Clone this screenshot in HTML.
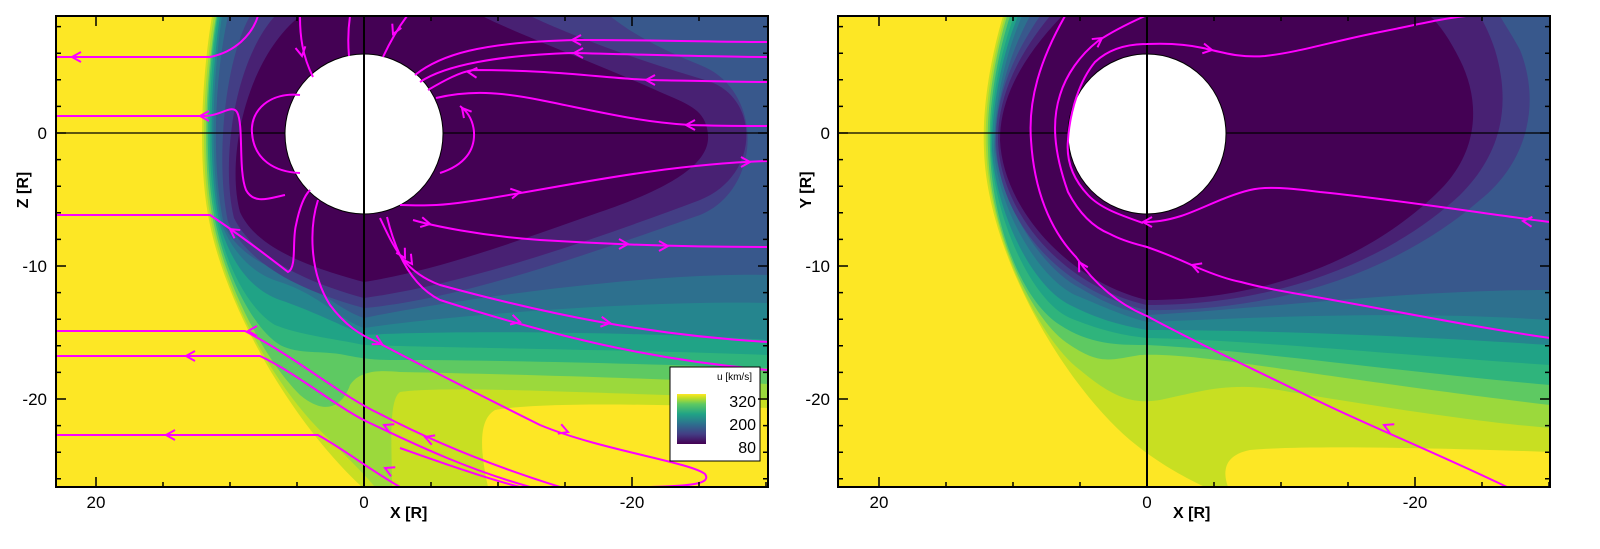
<!DOCTYPE html>
<html><head><meta charset="utf-8"><style>
html,body{margin:0;padding:0;background:#fff;}
svg{display:block;font-family:"Liberation Sans",sans-serif;}
.s{fill:none;stroke:#ff00ff;stroke-width:2;}
.a{fill:none;stroke:#ff00ff;stroke-width:2;}
.t{stroke:#000;stroke-width:1.5;}
</style></head><body>
<svg width="1600" height="549" viewBox="0 0 1600 549" xmlns="http://www.w3.org/2000/svg">
<defs>
<clipPath id="cl"><rect x="56" y="16" width="712" height="471"/></clipPath>
<clipPath id="cr"><rect x="838" y="16" width="712" height="471"/></clipPath>
<linearGradient id="cb" x1="0" y1="1" x2="0" y2="0">
<stop offset="0" stop-color="#440154"/><stop offset="0.2" stop-color="#433e85"/><stop offset="0.4" stop-color="#2d708e"/><stop offset="0.6" stop-color="#20a386"/><stop offset="0.8" stop-color="#5ec962"/><stop offset="0.93" stop-color="#c8df22"/><stop offset="1" stop-color="#fde725"/>
</linearGradient>
</defs>
<rect width="1600" height="549" fill="#fff"/>

<!-- LEFT PANEL -->
<g clip-path="url(#cl)">
<rect x="56" y="16" width="712" height="471" fill="#fde725"/>
<path fill="#c8df22" d="M212,16 C203,70 196,160 210,225 C228,310 290,420 362,487 L768,487 L768,16 Z"/>
<path fill="#fde725" d="M488,487 C480,450 478,420 495,410 C540,402 650,404 768,408 L768,487 Z"/>
<path fill="#9bd93c" d="M214,16 C205,70 198,160 212,225 C228,300 275,390 330,440 C350,460 365,475 375,487 L392,487 C392,450 388,400 400,392 C450,385 600,394 768,398 L768,16 Z"/>
<path fill="#5ec962" d="M216,16 C207,70 200,160 214,225 C228,290 265,360 300,395 C330,420 345,400 350,385 C360,370 380,370 400,372 C500,374 650,378 768,384 L768,16 Z"/>
<path fill="#2fb47c" d="M217,16 C208,70 202,160 216,225 C228,280 255,330 280,345 C300,355 320,350 345,355 C370,360 380,360 400,360 C500,360 650,364 768,368 L768,16 Z"/>
<path fill="#20a386" d="M218,16 C210,70 204,160 218,225 C228,270 250,310 275,325 C300,335 330,338 364,345 C450,348 650,350 768,355 L768,16 Z"/>
<path fill="#25858e" d="M220,16 C212,70 206,160 220,225 C232,265 252,290 280,300 C310,310 340,325 364,335 C450,330 650,332 768,340 L768,16 Z"/>
<path fill="#2d708e" d="M222,16 C214,70 208,160 222,225 C234,255 255,275 280,282 C320,295 340,320 364,328 C450,315 650,300 768,303 L768,16 Z"/>
<path fill="#38588c" d="M228,16 C216,70 210,160 224,225 C236,250 260,265 290,275 C320,290 340,310 364,318 C450,300 650,272 768,275 L768,16 Z"/>
<path fill="#433e85" d="M250,16 C225,60 215,160 228,222 C245,255 280,285 364,308 C460,300 600,250 700,215 C762,190 765,90 700,65 C650,45 625,28 610,16 Z"/>
<path fill="#482173" d="M275,16 C235,60 220,160 234,218 C250,250 290,278 364,298 C460,285 580,245 700,200 C762,175 760,95 705,80 C620,55 560,30 530,16 Z"/>
<path fill="#440154" d="M300,16 C245,60 226,160 240,212 C255,245 300,265 364,282 C440,270 520,240 600,212 C680,185 710,160 708,135 C706,110 690,105 660,92 C600,65 520,35 482,16 Z"/>
<line x1="56" y1="133" x2="768" y2="133" stroke="#000" stroke-width="1.2"/>
<ellipse cx="364" cy="134" rx="79" ry="80" fill="#fff" stroke="#000" stroke-width="1"/>
<line x1="364" y1="16" x2="364" y2="487" stroke="#000" stroke-width="2"/>

<!-- streamlines left -->
<path class="s" d="M56,57 L210,57 C235,52 252,35 258,16"/>
<path class="s" d="M56,116 L205,116 C220,116 232,104 237,112 C244,125 238,170 246,190 C254,205 270,198 285,195"/>
<path class="s" d="M300,95 C270,92 250,110 252,133 C254,160 275,172 300,173"/>
<path class="s" d="M56,215 L210,215 C240,235 270,258 288,272 C297,268 292,240 296,225 C300,205 305,195 310,190"/>
<path class="s" d="M318,200 C310,225 308,270 330,305 C345,325 360,335 377,342 C420,365 480,395 540,425 C600,450 690,462 705,474 C712,484 690,486 650,487"/>
<path class="s" d="M300,17 C300,35 302,55 313,77"/>
<path class="s" d="M350,16 C348,30 348,45 349,56"/>
<path class="s" d="M407,16 C398,28 390,42 383,57"/>
<path class="s" d="M415,75 C440,55 480,42 577,40 C660,40 720,42 768,42"/>
<path class="s" d="M420,82 C445,65 500,55 573,53 C660,55 720,57 768,57"/>
<path class="s" d="M428,90 C445,80 460,72 473,70 C560,70 600,78 650,80 C700,81 740,82 768,82"/>
<path class="s" d="M436,98 C470,90 500,92 540,100 C600,112 640,122 690,125 C720,126 750,126 768,126"/>
<path class="s" d="M440,173 C465,165 475,150 474,132 C473,120 468,112 460,106"/>
<path class="s" d="M400,205 C430,206 445,205 465,202 C550,190 650,165 768,161"/>
<path class="s" d="M413,220 C430,225 480,236 540,240 C620,245 700,247 768,247"/>
<path class="s" d="M380,218 C395,250 405,272 440,285 C550,315 650,335 768,342"/>
<path class="s" d="M387,217 C395,250 410,285 440,300 C550,335 650,360 768,370"/>
<path class="s" d="M56,331 L245,331 C300,360 340,395 380,414 C420,435 480,462 560,487"/>
<path class="s" d="M56,356 L260,356 C300,375 340,410 372,424 C420,447 470,470 530,487"/>
<path class="s" d="M56,435 L318,435 C345,450 370,470 400,487"/>
<path class="s" d="M520,487 C480,477 420,455 400,448"/>
<!-- arrows left -->
<g class="a">
<path d="M-9,-5 L0,0 L-9,5" transform="translate(72,57) rotate(180)"/>
<path d="M-9,-5 L0,0 L-9,5" transform="translate(200,116) rotate(180)"/>
<path d="M-9,-5 L0,0 L-9,5" transform="translate(230,229) rotate(215)"/>
<path d="M-9,-5 L0,0 L-9,5" transform="translate(302,56) rotate(80)"/>
<path d="M-9,-5 L0,0 L-9,5" transform="translate(393,34) rotate(115)"/>
<path d="M-9,-5 L0,0 L-9,5" transform="translate(572,40) rotate(180)"/>
<path d="M-9,-5 L0,0 L-9,5" transform="translate(574,53) rotate(180)"/>
<path d="M-9,-5 L0,0 L-9,5" transform="translate(646,80) rotate(180)"/>
<path d="M-9,-5 L0,0 L-9,5" transform="translate(468,72) rotate(185)"/>
<path d="M-9,-5 L0,0 L-9,5" transform="translate(686,125) rotate(180)"/>
<path d="M-9,-5 L0,0 L-9,5" transform="translate(462,108) rotate(230)"/>
<path d="M-9,-5 L0,0 L-9,5" transform="translate(750,162)"/>
<path d="M-9,-5 L0,0 L-9,5" transform="translate(520,192) rotate(-10)"/>
<path d="M-9,-5 L0,0 L-9,5" transform="translate(628,244)"/>
<path d="M-9,-5 L0,0 L-9,5" transform="translate(668,246)"/>
<path d="M-9,-5 L0,0 L-9,5" transform="translate(430,224) rotate(12)"/>
<path d="M-9,-5 L0,0 L-9,5" transform="translate(412,264) rotate(55)"/>
<path d="M-9,-5 L0,0 L-9,5" transform="translate(405,258) rotate(60)"/>
<path d="M-9,-5 L0,0 L-9,5" transform="translate(610,323) rotate(8)"/>
<path d="M-9,-5 L0,0 L-9,5" transform="translate(520,322) rotate(15)"/>
<path d="M-9,-5 L0,0 L-9,5" transform="translate(382,344) rotate(28)"/>
<path d="M-9,-5 L0,0 L-9,5" transform="translate(568,432) rotate(20)"/>
<path d="M-9,-5 L0,0 L-9,5" transform="translate(248,331) rotate(180)"/>
<path d="M-9,-5 L0,0 L-9,5" transform="translate(186,356) rotate(180)"/>
<path d="M-9,-5 L0,0 L-9,5" transform="translate(166,435) rotate(180)"/>
<path d="M-9,-5 L0,0 L-9,5" transform="translate(425,437) rotate(200)"/>
<path d="M-9,-5 L0,0 L-9,5" transform="translate(384,425) rotate(205)"/>
<path d="M-9,-5 L0,0 L-9,5" transform="translate(385,468) rotate(205)"/>
</g>
</g>
<rect x="56" y="16" width="712" height="471" fill="none" stroke="#000" stroke-width="2"/>
<!-- legend -->
<rect x="670" y="367" width="90" height="94" fill="#fff" stroke="#000" stroke-width="1"/>
<text x="752" y="380" font-size="10" text-anchor="end">u [km/s]</text>
<rect x="677" y="394" width="29" height="50" fill="url(#cb)"/>
<text x="756" y="407" font-size="16" text-anchor="end">320</text>
<text x="756" y="430" font-size="16" text-anchor="end">200</text>
<text x="756" y="453" font-size="16" text-anchor="end">80</text>

<!-- RIGHT PANEL -->
<g clip-path="url(#cr)">
<rect x="838" y="16" width="712" height="471" fill="#fde725"/>
<path fill="#c8df22" d="M1003,16 C990,60 982,110 984,150 C987,250 1060,380 1130,440 C1160,465 1190,480 1205,487 L1550,487 L1550,16 Z"/>
<path fill="#fde725" d="M1228,487 C1222,470 1225,455 1250,450 C1300,445 1450,448 1550,452 L1550,487 Z"/>
<path fill="#9bd93c" d="M1005,16 C992,60 984,110 986,150 C990,240 1040,340 1080,370 C1110,395 1130,405 1160,400 C1200,392 1230,380 1290,392 C1400,410 1480,422 1550,428 L1550,16 Z"/>
<path fill="#5ec962" d="M1007,16 C994,60 986,110 988,150 C990,230 1030,320 1070,345 C1100,365 1110,360 1140,355 C1200,352 1300,375 1550,405 L1550,16 Z"/>
<path fill="#2fb47c" d="M1010,16 C996,60 988,110 990,150 C992,220 1020,300 1060,325 C1090,345 1120,345 1147,345 C1250,350 1400,372 1550,385 L1550,16 Z"/>
<path fill="#20a386" d="M1014,16 C998,60 990,110 991,150 C994,215 1030,300 1070,318 C1100,330 1120,335 1147,338 C1250,340 1400,355 1550,365 L1550,16 Z"/>
<path fill="#25858e" d="M1018,16 C1000,60 992,110 992,150 C996,210 1030,285 1070,305 C1100,320 1120,325 1147,330 C1250,330 1400,335 1550,345 L1550,16 Z"/>
<path fill="#2d708e" d="M1022,16 C1003,60 994,110 994,150 C998,205 1035,275 1075,295 C1100,305 1120,315 1147,322 C1250,318 1400,310 1550,320 L1550,16 Z"/>
<path fill="#38588c" d="M1030,16 C1006,60 995,110 995,145 C999,200 1040,268 1080,288 C1100,300 1120,310 1147,315 C1250,310 1400,290 1550,290 L1550,16 Z"/>
<path fill="#433e85" d="M1040,16 C1010,60 996,100 996,140 C997,220 1060,292 1147,310 C1280,312 1400,270 1480,200 C1530,160 1540,100 1520,50 C1512,35 1505,25 1500,16 Z"/>
<path fill="#482173" d="M1050,16 C1014,60 998,100 998,140 C1000,215 1065,287 1147,305 C1280,305 1390,260 1460,195 C1505,150 1510,100 1495,50 C1490,35 1485,25 1480,16 Z"/>
<path fill="#440154" d="M1062,16 C1020,60 1000,100 1000,140 C1003,210 1070,282 1147,300 C1280,300 1380,250 1440,190 C1480,150 1480,100 1460,60 C1450,40 1440,25 1430,16 Z"/>
<line x1="838" y1="133" x2="1550" y2="133" stroke="#000" stroke-width="1.2"/>
<ellipse cx="1147" cy="134" rx="79" ry="80" fill="#fff" stroke="#000" stroke-width="1"/>
<line x1="1147" y1="16" x2="1147" y2="487" stroke="#000" stroke-width="2"/>
<!-- streamlines right -->
<path class="s" d="M1065,16 C1040,60 1028,100 1031,140 C1034,190 1050,230 1076,257 C1095,285 1120,305 1147,316 C1200,345 1260,372 1312,398 C1360,422 1430,450 1507,487"/>
<path class="s" d="M1145,16 C1125,25 1110,33 1098,41 C1080,55 1066,75 1060,95 C1052,120 1053,150 1068,192 C1080,215 1095,228 1110,234 C1125,242 1140,245 1147,247 C1170,255 1185,262 1196,267 C1215,275 1230,280 1241,282 C1270,290 1300,294 1316,297 C1400,312 1480,328 1550,338"/>
<path class="s" d="M1143,223 C1120,215 1100,208 1088,195 C1072,178 1066,160 1068,140 C1070,110 1080,80 1095,62 C1110,48 1130,44 1147,44 C1170,43 1190,45 1203,48 C1225,53 1240,58 1265,56 C1300,52 1330,42 1380,32 C1420,24 1445,18 1466,16"/>
<path class="s" d="M1550,222 C1500,216 1400,200 1320,192 C1290,188 1265,186 1250,190 C1225,196 1200,210 1181,216 C1165,221 1155,222 1143,222"/>
<g class="a">
<path d="M-9,-5 L0,0 L-9,5" transform="translate(1079,262) rotate(240)"/>
<path d="M-9,-5 L0,0 L-9,5" transform="translate(1384,425) rotate(205)"/>
<path d="M-9,-5 L0,0 L-9,5" transform="translate(1102,38) rotate(-35)"/>
<path d="M-9,-5 L0,0 L-9,5" transform="translate(1192,265) rotate(200)"/>
<path d="M-9,-5 L0,0 L-9,5" transform="translate(1212,50) rotate(10)"/>
<path d="M-9,-5 L0,0 L-9,5" transform="translate(1523,221) rotate(185)"/>
<path d="M-9,-5 L0,0 L-9,5" transform="translate(1143,222) rotate(180)"/>
</g>
</g>
<rect x="838" y="16" width="712" height="471" fill="none" stroke="#000" stroke-width="2"/>

<!-- ticks -->
<g class="t">
<!-- left panel x ticks -->
<path d="M96,487v-10M163,487v-5M230,487v-5M297,487v-5M364,487v-10M431,487v-5M498,487v-5M565,487v-5M632,487v-10M699,487v-5M766,487v-5
M96,16v10M163,16v5M230,16v5M297,16v5M364,16v10M431,16v5M498,16v5M565,16v5M632,16v10M699,16v5"/>
<path d="M56,26.6h5M56,53.2h5M56,79.8h5M56,106.4h5M56,133h10M56,159.6h5M56,186.2h5M56,212.8h5M56,239.4h5M56,266h10M56,292.6h5M56,319.2h5M56,345.8h5M56,372.4h5M56,399h10M56,425.6h5M56,452.2h5M56,478.8h5
M768,26.6h-5M768,53.2h-5M768,79.8h-5M768,106.4h-5M768,133h-10M768,159.6h-5M768,186.2h-5M768,212.8h-5M768,239.4h-5M768,266h-10M768,292.6h-5M768,319.2h-5M768,345.8h-5M768,372.4h-5M768,399h-10M768,425.6h-5M768,452.2h-5M768,478.8h-5"/>
<!-- right panel -->
<path d="M879,487v-10M946,487v-5M1013,487v-5M1080,487v-5M1147,487v-10M1214,487v-5M1281,487v-5M1348,487v-5M1415,487v-10M1482,487v-5M1549,487v-5
M879,16v10M946,16v5M1013,16v5M1080,16v5M1147,16v10M1214,16v5M1281,16v5M1348,16v5M1415,16v10M1482,16v5"/>
<path d="M838,26.6h5M838,53.2h5M838,79.8h5M838,106.4h5M838,133h10M838,159.6h5M838,186.2h5M838,212.8h5M838,239.4h5M838,266h10M838,292.6h5M838,319.2h5M838,345.8h5M838,372.4h5M838,399h10M838,425.6h5M838,452.2h5M838,478.8h5
M1550,26.6h-5M1550,53.2h-5M1550,79.8h-5M1550,106.4h-5M1550,133h-10M1550,159.6h-5M1550,186.2h-5M1550,212.8h-5M1550,239.4h-5M1550,266h-10M1550,292.6h-5M1550,319.2h-5M1550,345.8h-5M1550,372.4h-5M1550,399h-10M1550,425.6h-5M1550,452.2h-5M1550,478.8h-5"/>
</g>

<!-- labels -->
<g font-size="17" fill="#000">
<text x="47" y="139" text-anchor="end">0</text>
<text x="47" y="272" text-anchor="end">-10</text>
<text x="47" y="405" text-anchor="end">-20</text>
<text x="96" y="508" text-anchor="middle">20</text>
<text x="364" y="508" text-anchor="middle">0</text>
<text x="632" y="508" text-anchor="middle">-20</text>
<text x="830" y="139" text-anchor="end">0</text>
<text x="830" y="272" text-anchor="end">-10</text>
<text x="830" y="405" text-anchor="end">-20</text>
<text x="879" y="508" text-anchor="middle">20</text>
<text x="1147" y="508" text-anchor="middle">0</text>
<text x="1415" y="508" text-anchor="middle">-20</text>
</g>
<g font-size="16" font-weight="bold">
<text x="390" y="518">X [R]</text>
<text x="1173" y="518">X [R]</text>
<text transform="translate(28,190) rotate(-90)" text-anchor="middle">Z [R]</text>
<text transform="translate(811,190) rotate(-90)" text-anchor="middle">Y [R]</text>
</g>
</svg>
</body></html>
